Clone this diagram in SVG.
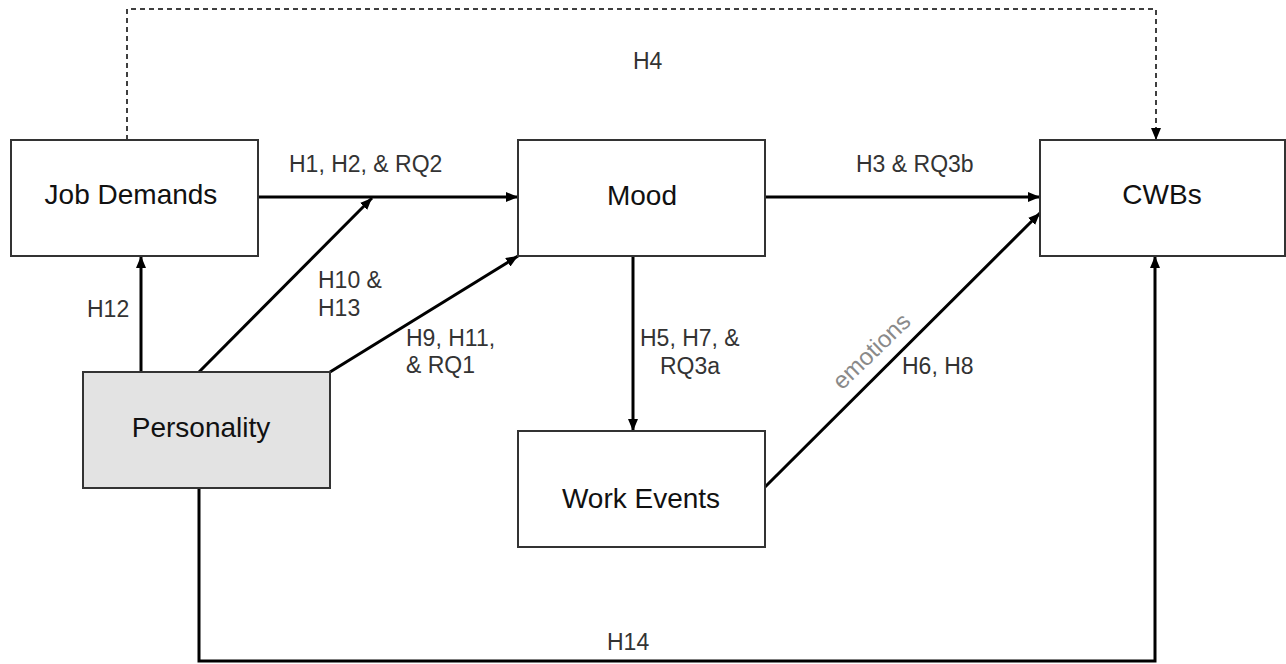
<svg xmlns="http://www.w3.org/2000/svg" width="1286" height="664" viewBox="0 0 1286 664">
  <style>
    .box { fill: #ffffff; stroke: #333333; stroke-width: 2; }
    .shaded { fill: #e3e3e3; }
    .node-label { font-family: "Liberation Sans", Arial, sans-serif; font-size: 28px; fill: #111111; text-anchor: middle; }
    .edge { fill: none; stroke: #000000; stroke-width: 3; }
    .dashed { fill: none; stroke: #000000; stroke-width: 1.5; stroke-dasharray: 5 4; }
    .edge-label { font-family: "Liberation Sans", Arial, sans-serif; font-size: 23px; fill: #333333; }
    .note { font-family: "Liberation Sans", Arial, sans-serif; font-size: 24px; fill: #8a8a8a; text-anchor: middle; }
  </style>
  <defs>
    <marker id="arrow" viewBox="0 0 12 10" refX="12" refY="5" markerWidth="12" markerHeight="10" markerUnits="userSpaceOnUse" orient="auto">
      <path d="M0,0 L12,5 L0,10 Z" fill="#000000"/>
    </marker>
  </defs>

  <rect width="1286" height="664" fill="#ffffff"/>

  <!-- connectors -->
  <g id="connectors">
    <path class="dashed" d="M127,140 V9 H1156 V140" marker-end="url(#arrow)"/>
    <path class="edge" d="M258,197 H518" marker-end="url(#arrow)"/>
    <path class="edge" d="M765,197 H1040" marker-end="url(#arrow)"/>
    <path class="edge" d="M633,256 V431" marker-end="url(#arrow)"/>
    <path class="edge" d="M141,372 V256" marker-end="url(#arrow)"/>
    <path class="edge" d="M199,372 L372,198" marker-end="url(#arrow)"/>
    <path class="edge" d="M330,372 L518,256" marker-end="url(#arrow)"/>
    <path class="edge" d="M765,487 L1040,213" marker-end="url(#arrow)"/>
    <path class="edge" d="M199,488 V661 H1155 V256" marker-end="url(#arrow)"/>

    <text class="edge-label" x="633" y="69">H4</text>
    <text class="edge-label" x="289" y="172">H1, H2, &amp; RQ2</text>
    <text class="edge-label" x="856" y="172">H3 &amp; RQ3b</text>
    <text class="edge-label" x="87" y="317">H12</text>
    <text class="edge-label" x="318" y="288">H10 &amp;</text>
    <text class="edge-label" x="318" y="316">H13</text>
    <text class="edge-label" x="406" y="346">H9, H11,</text>
    <text class="edge-label" x="406" y="373">&amp; RQ1</text>
    <text class="edge-label" x="640" y="346">H5, H7, &amp;</text>
    <text class="edge-label" x="660" y="374">RQ3a</text>
    <text class="edge-label" x="902" y="374">H6, H8</text>
    <text class="edge-label" x="607" y="650">H14</text>
    <text class="note" transform="translate(877,357) rotate(-44)" x="0" y="0">emotions</text>
  </g>

  <!-- nodes -->
  <g id="job-demands">
    <rect class="box" x="11" y="140" width="247" height="116"/>
    <text class="node-label" x="131" y="204">Job Demands</text>
  </g>
  <g id="mood">
    <rect class="box" x="518" y="140" width="247" height="116"/>
    <text class="node-label" x="642" y="205">Mood</text>
  </g>
  <g id="cwbs">
    <rect class="box" x="1040" y="140" width="245" height="116"/>
    <text class="node-label" x="1162" y="204">CWBs</text>
  </g>
  <g id="personality">
    <rect class="box shaded" x="83" y="372" width="247" height="116"/>
    <text class="node-label" x="201" y="437">Personality</text>
  </g>
  <g id="work-events">
    <rect class="box" x="518" y="431" width="247" height="116"/>
    <text class="node-label" x="641" y="508">Work Events</text>
  </g>
</svg>
